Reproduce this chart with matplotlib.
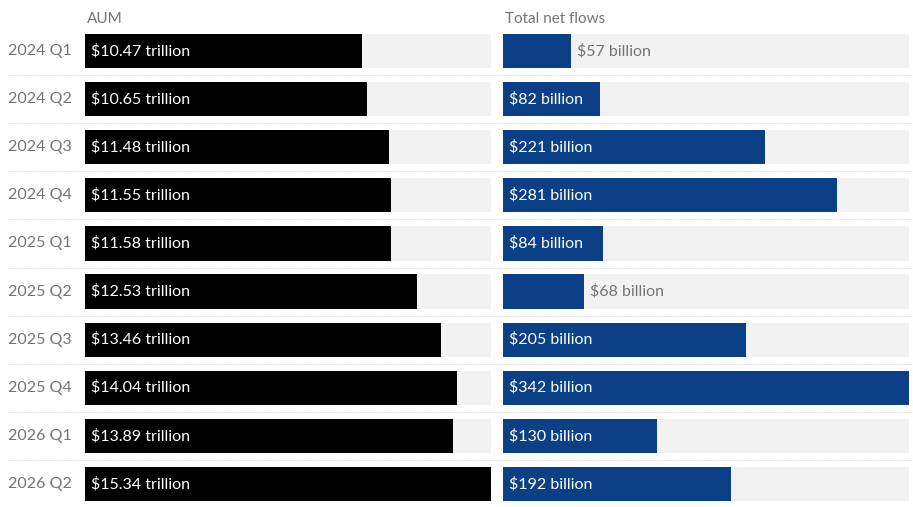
import matplotlib.pyplot as plt

plt.rcParams['font.family'] = ['Lato', 'DejaVu Sans']

quarters = ['2024 Q1', '2024 Q2', '2024 Q3', '2024 Q4', '2025 Q1',
            '2025 Q2', '2025 Q3', '2025 Q4', '2026 Q1', '2026 Q2']
aum = [10.47, 10.65, 11.48, 11.55, 11.58, 12.53, 13.46, 14.04, 13.89, 15.34]
flows = [57, 82, 221, 281, 84, 68, 205, 342, 130, 192]

W, H = 913, 507
TRACK = '#f2f2f2'
GREY = '#757575'
NAVY = '#0b3f86'

fig = plt.figure(figsize=(W / 100, H / 100), dpi=100)
n = len(quarters)
top, bottom = 27, 508


def px_axes(x0, x1):
    return fig.add_axes([x0 / W, 1 - bottom / H, (x1 - x0) / W, (bottom - top) / H])


# background axes for the dotted row separators and quarter labels
bg = px_axes(0, W)
bg.set_xlim(0, W)
bg.set_ylim(n - 0.5, -0.5)
bg.set_axis_off()
for i in range(n - 1):
    bg.hlines(i + 0.5, 8, W, colors='#d9d9d9', linestyles=(0, (1, 1)), linewidth=0.8)
for i, q in enumerate(quarters):
    bg.text(72, i, q, ha='right', va='center', fontsize=11.5, color=GREY)


def panel(x0, x1, values, color, fmt, title):
    ax = px_axes(x0, x1)
    vmax = max(values)
    ax.set_xlim(0, vmax)
    ax.set_ylim(n - 0.5, -0.5)
    ax.set_axis_off()
    ax.barh(range(n), [vmax] * n, height=0.71, color=TRACK)
    ax.barh(range(n), values, height=0.71, color=color)
    fig.text((x0 + 2) / W, 1 - 19 / H, title, ha='left', va='center',
             fontsize=11, color=GREY)
    fig.canvas.draw()
    r = fig.canvas.get_renderer()
    px_per_unit = (x1 - x0) / vmax
    for i, v in enumerate(values):
        t = ax.text(6 / px_per_unit, i, fmt(v), ha='left', va='center',
                    fontsize=11.5, color='white')
        tw = t.get_window_extent(r).width
        if tw + 10 > v * px_per_unit:
            t.set_x(v + 6 / px_per_unit)
            t.set_color(GREY)
    return ax


panel(85, 491, aum, 'black', lambda v: f'${v:.2f} trillion', 'AUM')
panel(503, 909, flows, NAVY, lambda v: f'${v} billion', 'Total net flows')

fig.savefig('out.png', dpi=100)
